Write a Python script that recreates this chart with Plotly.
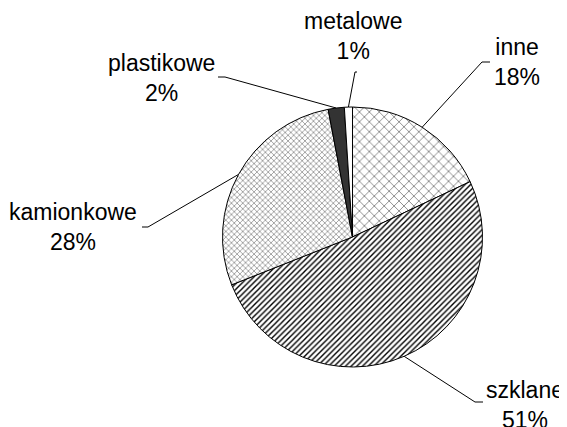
import math
import plotly.graph_objects as go

# ---- data ----
categories = ["inne", "szklane", "kamionkowe", "plastikowe", "metalowe"]
percent_values = [18, 51, 28, 2, 1]
percent_labels = ["18%", "51%", "28%", "2%", "1%"]

# ---- styling / layout (page pixels) ----
PAGE_W, PAGE_H = 567, 427
BODY_MARGIN = 8  # default browser body margin
W, H = PAGE_W - BODY_MARGIN, PAGE_H - BODY_MARGIN
CX, CY, R = 352.5, 237.0, 130.0
FONT = "Liberation Sans, Arial, sans-serif"
FONT_SIZE = 23

fill_colors = ["white", "white", "#d4d4d4", "#333333", "white"]
pattern_shapes = ["x", "/", "x", "", ""]
pattern_fg = ["#000000", "#000000", "#8c8c8c", "#333333", "#000000"]
pattern_size = [7, 4, 4, 8, 8]
pattern_solidity = [0.12, 0.35, 0.35, 0.3, 0.3]

# label centres and leader-line elbow/stub (x_elbow, x_stub, y) in page pixels
label_pos = {
    "inne": (517, 62),
    "szklane": (525, 405),
    "kamionkowe": (73, 227),
    "plastikowe": (161, 78),
    "metalowe": (353, 36),
}
leader = {
    "inne": (482, 490, 62),
    "szklane": (475, 483, 402),
    "kamionkowe": (148, 142, 227),
    "plastikowe": (225, 218, 77),
    "metalowe": (355, 357, 72),
}


def px(x):
    return (x - BODY_MARGIN) / W


def py(y):
    return 1 - (y - BODY_MARGIN) / H


fig = go.Figure(
    go.Pie(
        labels=categories,
        values=percent_values,
        sort=False,
        direction="clockwise",
        rotation=0,
        textinfo="none",
        hoverinfo="label+percent",
        marker=dict(
            colors=fill_colors,
            line=dict(color="black", width=1),
            pattern=dict(
                shape=pattern_shapes,
                fgcolor=pattern_fg,
                size=pattern_size,
                solidity=pattern_solidity,
                fillmode="replace",
            ),
        ),
        domain=dict(x=[px(CX - R), px(CX + R)], y=[py(CY + R), py(CY - R)]),
        showlegend=False,
    )
)

# annotations and leader lines
total = sum(percent_values)
cum = 0
shapes = []
annotations = []
for cat, val, lab in zip(categories, percent_values, percent_labels):
    mid = (cum + val / 2) / total * 2 * math.pi
    cum += val
    ex = CX + R * math.sin(mid)
    ey = CY - R * math.cos(mid)
    xe, xs, ye = leader[cat]
    shapes.append(
        dict(
            type="path",
            xref="paper",
            yref="paper",
            path=f"M {px(ex)} {py(ey)} L {px(xe)} {py(ye)} L {px(xs)} {py(ye)}",
            line=dict(color="black", width=1),
        )
    )
    lx, ly = label_pos[cat]
    annotations.append(
        dict(
            x=px(lx),
            y=py(ly),
            xref="paper",
            yref="paper",
            text=f"{cat}<br>{lab}",
            showarrow=False,
            xanchor="center",
            yanchor="middle",
            align="center",
            font=dict(family=FONT, size=FONT_SIZE, color="black"),
        )
    )

fig.update_layout(
    width=W,
    height=H,
    margin=dict(l=0, r=0, t=0, b=0),
    paper_bgcolor="white",
    plot_bgcolor="white",
    shapes=shapes,
    annotations=annotations,
    font=dict(family=FONT, size=FONT_SIZE),
)

fig.write_html("out.html")
